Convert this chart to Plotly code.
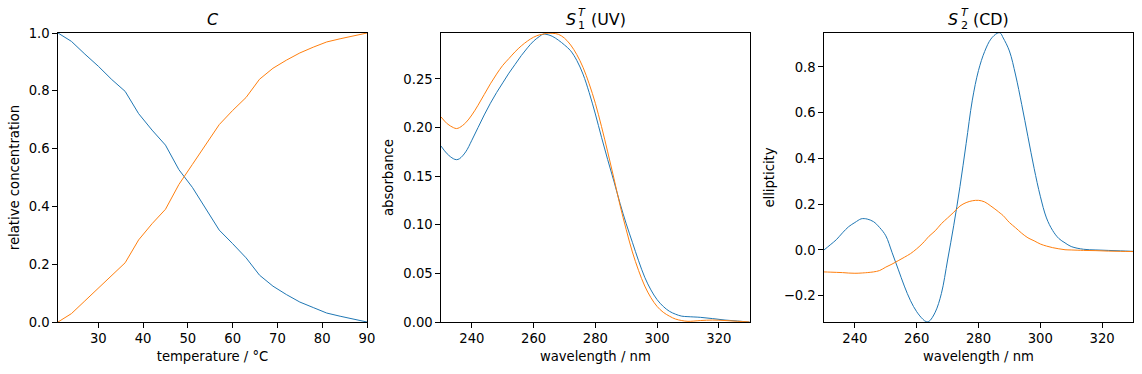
import plotly.graph_objects as go

# ---------------- data ----------------
temperature = [21, 24, 27, 30, 33, 36, 39, 42, 45, 48, 51, 54, 57, 60, 63, 66, 69, 72, 75, 78, 81, 84, 87, 90]
conc_1 = [1.000, 0.971, 0.927, 0.885, 0.839, 0.798, 0.721, 0.664, 0.612, 0.527, 0.466, 0.394, 0.318, 0.271, 0.222, 0.162, 0.124, 0.095, 0.069, 0.050, 0.031, 0.020, 0.010, 0.000]
conc_2 = [0.000, 0.029, 0.073, 0.117, 0.162, 0.205, 0.284, 0.340, 0.390, 0.476, 0.545, 0.612, 0.683, 0.732, 0.777, 0.840, 0.878, 0.906, 0.931, 0.951, 0.969, 0.980, 0.989, 1.000]

wl_uv = [230, 232, 234, 235, 236, 238, 240, 242, 244, 246, 248, 250, 252, 254, 256, 258, 260, 262, 263, 264, 266, 268,
         270, 272, 274, 276, 278, 280, 282, 284, 286, 288, 290, 292, 294, 296, 298, 300, 302, 304, 306, 308, 310,
         314, 318, 322, 326, 330]
uv_1 = [0.181, 0.173, 0.168, 0.167, 0.168, 0.175, 0.187, 0.200, 0.213, 0.225, 0.236, 0.246, 0.256, 0.265, 0.274, 0.282,
        0.289, 0.294, 0.296, 0.296, 0.294, 0.290, 0.285, 0.279, 0.269, 0.255, 0.236, 0.214, 0.190, 0.167, 0.145,
        0.122, 0.101, 0.082, 0.063, 0.046, 0.033, 0.023, 0.016, 0.011, 0.008, 0.006, 0.0055, 0.0048, 0.0035, 0.002,
        0.001, 0.000]
uv_2 = [0.211, 0.204, 0.200, 0.199, 0.200, 0.205, 0.213, 0.223, 0.234, 0.245, 0.255, 0.264, 0.271, 0.278, 0.284, 0.289,
        0.293, 0.2955, 0.296, 0.297, 0.297, 0.296, 0.292, 0.285, 0.275, 0.262, 0.245, 0.225, 0.201, 0.175, 0.148,
        0.120, 0.095, 0.072, 0.053, 0.037, 0.025, 0.016, 0.010, 0.006, 0.003, 0.0015, 0.0007, 0.0015, 0.002, 0.0015,
        0.0008, 0.000]

wl_cd = [230, 232, 234, 236, 238, 240, 242, 243, 244, 246, 248, 250, 252, 254, 256, 258, 260, 262, 263, 264, 266, 268,
         270, 272, 274, 276, 278, 280, 282, 284, 286, 287, 288, 290, 292, 294, 296, 298, 300, 302, 304, 306, 308,
         310, 314, 318, 322, 326, 330]
cd_1 = [0.000, 0.022, 0.045, 0.075, 0.102, 0.120, 0.136, 0.137, 0.135, 0.124, 0.098, 0.062, -0.010, -0.084, -0.158,
        -0.222, -0.270, -0.303, -0.313, -0.312, -0.272, -0.190, -0.044, 0.108, 0.277, 0.465, 0.655, 0.785, 0.868,
        0.922, 0.947, 0.949, 0.927, 0.870, 0.765, 0.635, 0.495, 0.357, 0.235, 0.140, 0.085, 0.050, 0.031, 0.015,
        0.003, 0.000, -0.002, -0.004, -0.006]
cd_2 = [-0.096, -0.097, -0.098, -0.099, -0.101, -0.102, -0.101, -0.100, -0.099, -0.096, -0.090, -0.075, -0.062,
        -0.047, -0.032, -0.016, 0.005, 0.030, 0.045, 0.060, 0.084, 0.115, 0.140, 0.165, 0.192, 0.207, 0.215, 0.217,
        0.210, 0.192, 0.172, 0.161, 0.150, 0.120, 0.097, 0.073, 0.053, 0.040, 0.026, 0.017, 0.010, 0.005, 0.001,
        0.000, -0.002, -0.003, -0.005, -0.006, -0.007]

BLUE = "#1f77b4"
ORANGE = "#ff7f0e"
FONT = "DejaVu Sans"

W, H = 1142, 374
ml, mr, mt, mb = 58.3, 8.7, 33.3, 51.7
plotW = W - ml - mr


def dom(px0, px1):
    return [(px0 - ml) / plotW, (px1 - ml) / plotW]


d1 = dom(58.3, 367.3)
d2 = dom(441.3, 750.0)
d3 = dom(824.3, 1133.3)

fig = go.Figure()

fig.add_trace(go.Scatter(x=temperature, y=conc_1, mode="lines", line=dict(color=BLUE, width=1), xaxis="x", yaxis="y"))
fig.add_trace(go.Scatter(x=temperature, y=conc_2, mode="lines", line=dict(color=ORANGE, width=1), xaxis="x", yaxis="y"))
fig.add_trace(go.Scatter(x=wl_uv, y=uv_1, mode="lines", line=dict(color=BLUE, width=1, shape="spline"), xaxis="x2", yaxis="y2"))
fig.add_trace(go.Scatter(x=wl_uv, y=uv_2, mode="lines", line=dict(color=ORANGE, width=1, shape="spline"), xaxis="x2", yaxis="y2"))
fig.add_trace(go.Scatter(x=wl_cd, y=cd_1, mode="lines", line=dict(color=BLUE, width=1, shape="spline"), xaxis="x3", yaxis="y3"))
fig.add_trace(go.Scatter(x=wl_cd, y=cd_2, mode="lines", line=dict(color=ORANGE, width=1, shape="spline"), xaxis="x3", yaxis="y3"))

axis_common = dict(
    showline=True, linecolor="black", linewidth=1.06, mirror=True,
    ticks="outside", ticklen=4.6, tickwidth=1.06, tickcolor="black",
    showgrid=False, zeroline=False, automargin=False,
    tickfont=dict(family=FONT, size=13.2, color="black"),
)
title_font = dict(family=FONT, size=13.2, color="black")

fig.update_layout(
    width=W, height=H,
    margin=dict(l=ml, r=mr, t=mt, b=mb, pad=0),
    paper_bgcolor="white", plot_bgcolor="white",
    showlegend=False,
    font=dict(family=FONT, color="black"),
    xaxis=dict(domain=d1, range=[21, 90], tickvals=[30, 40, 50, 60, 70, 80, 90], anchor="y",
               title=dict(text="temperature / °C", font=title_font, standoff=6), **axis_common),
    yaxis=dict(domain=[0, 1], range=[0, 1], dtick=0.2, tickformat=".1f", anchor="x",
               title=dict(text="relative concentration", font=title_font, standoff=6), **axis_common),
    xaxis2=dict(domain=d2, range=[230, 330], tickvals=[240, 260, 280, 300, 320], anchor="y2",
                title=dict(text="wavelength / nm", font=title_font, standoff=6), **axis_common),
    yaxis2=dict(domain=[0, 1], range=[0, 0.2973], tickvals=[0, 0.05, 0.10, 0.15, 0.20, 0.25], tickformat=".2f",
                anchor="x2", title=dict(text="absorbance", font=title_font, standoff=6), **axis_common),
    xaxis3=dict(domain=d3, range=[230, 330], tickvals=[240, 260, 280, 300, 320], anchor="y3",
                title=dict(text="wavelength / nm", font=title_font, standoff=6), **axis_common),
    yaxis3=dict(domain=[0, 1], range=[-0.315, 0.9486], tickvals=[-0.2, 0, 0.2, 0.4, 0.6, 0.8], tickformat=".1f",
                anchor="x3", title=dict(text="ellipticity", font=title_font, standoff=6), **axis_common),
)


def px_to_paper_x(px):
    return (px - ml) / plotW


TS = 15.9   # title font size
SS = 11.1   # sub/superscript size
ann = []
# title of panel 1
ann.append(dict(text="<i>C</i>", x=px_to_paper_x(212.8), y=1, xref="paper", yref="paper",
                xanchor="center", yanchor="middle", yshift=13.1, showarrow=False,
                font=dict(family=FONT, size=TS, color="black")))


def s_title(sub, rest, s_left_px, script_px, rest_left_px):
    out = []
    out.append(dict(text="<i>S</i>", x=px_to_paper_x(s_left_px), y=1, xref="paper", yref="paper",
                    xanchor="left", yanchor="middle", yshift=13.1, showarrow=False, borderpad=0,
                    font=dict(family=FONT, size=TS, color="black")))
    out.append(dict(text="<i>T</i>", x=px_to_paper_x(script_px), y=1, xref="paper", yref="paper",
                    xanchor="left", yanchor="middle", yshift=20.3, showarrow=False, borderpad=0,
                    font=dict(family=FONT, size=SS, color="black")))
    out.append(dict(text=sub, x=px_to_paper_x(script_px), y=1, xref="paper", yref="paper",
                    xanchor="left", yanchor="middle", yshift=7.6, showarrow=False, borderpad=0,
                    font=dict(family=FONT, size=SS, color="black")))
    out.append(dict(text=rest, x=px_to_paper_x(rest_left_px), y=1, xref="paper", yref="paper",
                    xanchor="left", yanchor="middle", yshift=13.1, showarrow=False, borderpad=0,
                    font=dict(family=FONT, size=TS, color="black")))
    return out


ann += s_title("1", "(UV)", 565.0, 577.5, 589.8)
ann += s_title("2", "(CD)", 947.6, 960.0, 972.6)
fig.update_layout(annotations=ann)

fig.write_html("out.html")
